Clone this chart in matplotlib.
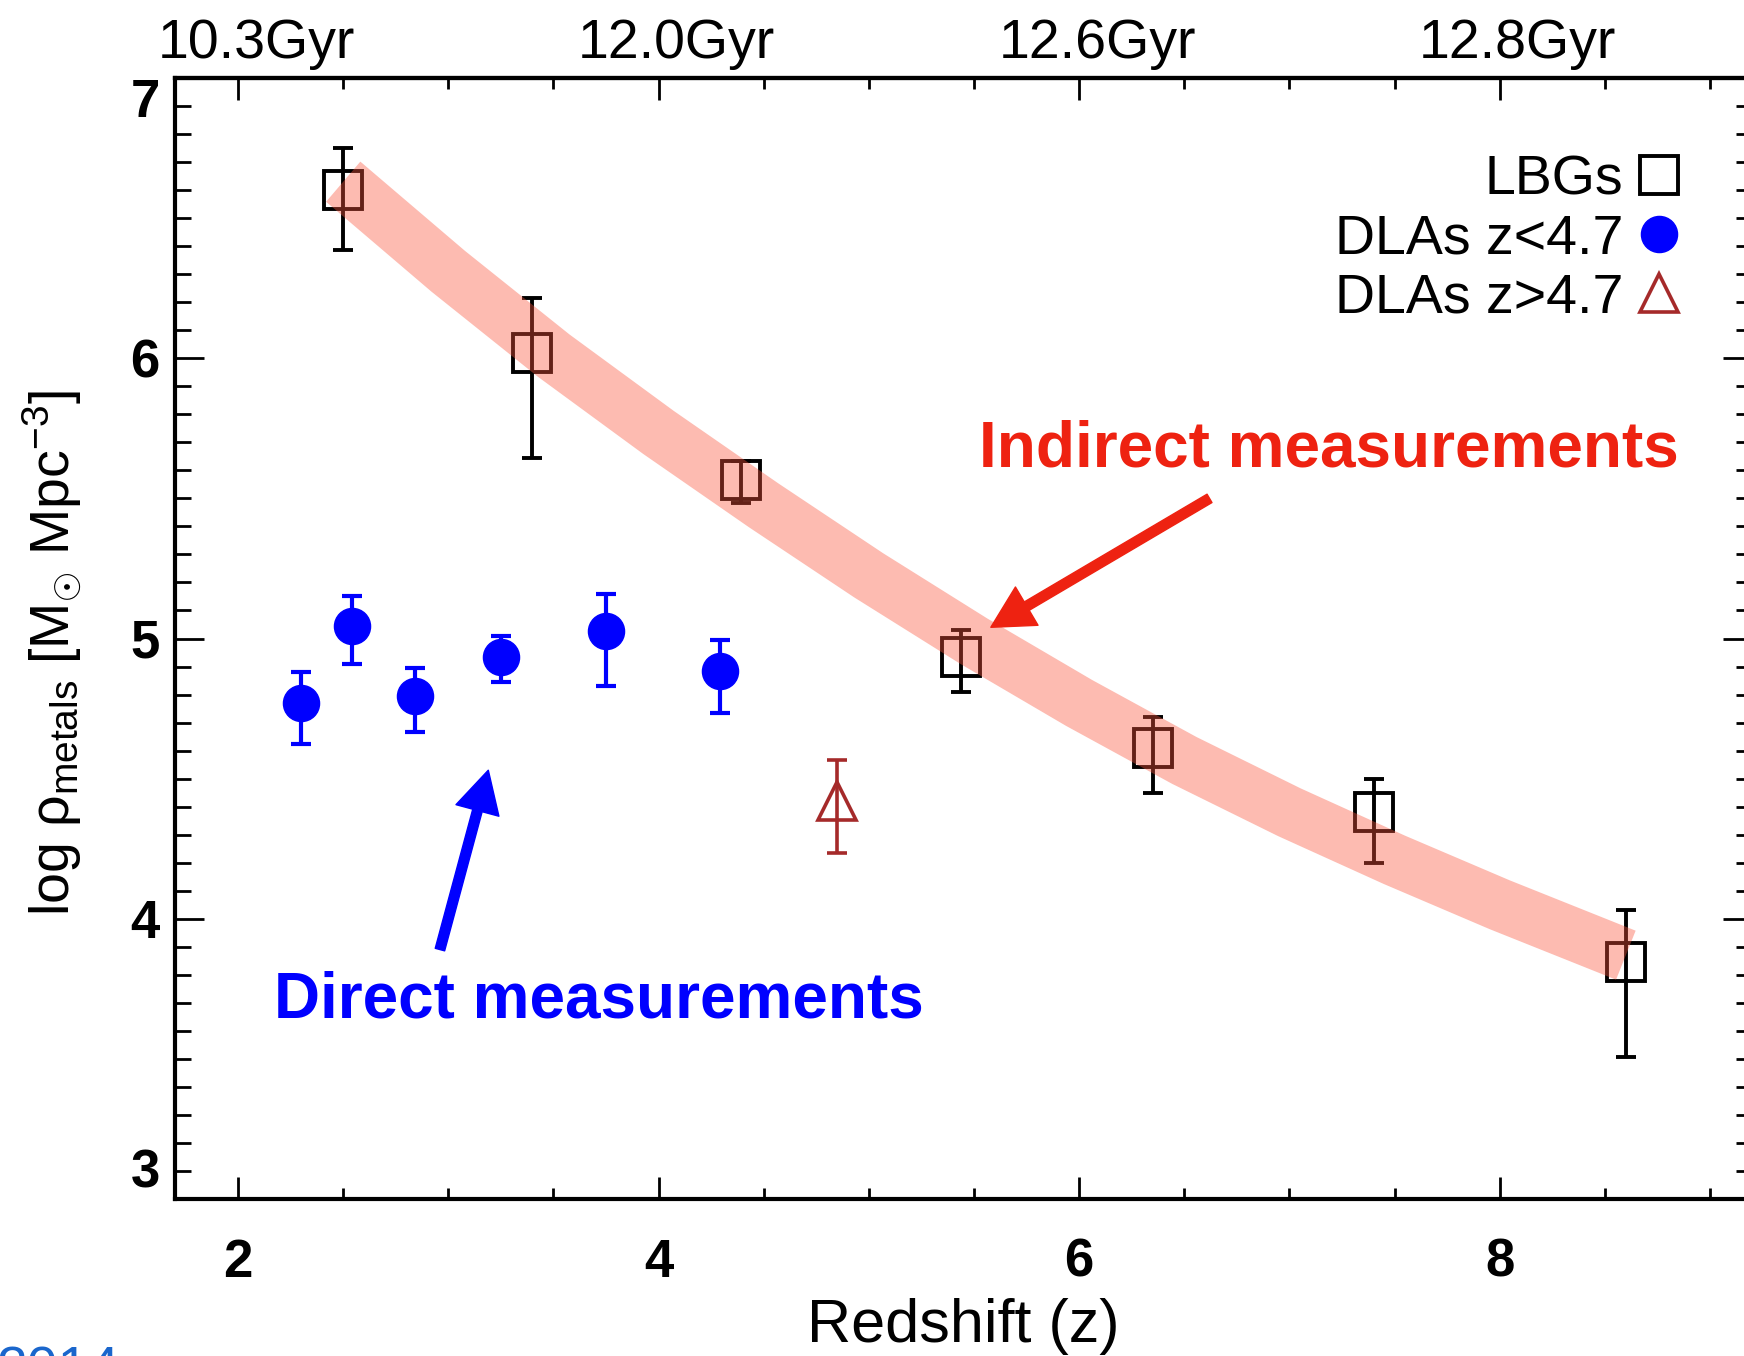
import numpy as np
import matplotlib.pyplot as plt
import matplotlib.transforms as mtransforms
from matplotlib.lines import Line2D
from matplotlib.ticker import MultipleLocator

plt.rcParams['font.family'] = ['Liberation Sans', 'DejaVu Sans']
plt.rcParams['mathtext.fontset'] = 'custom'
plt.rcParams['mathtext.rm'] = 'Liberation Sans'
plt.rcParams['mathtext.it'] = 'Liberation Sans'
plt.rcParams['mathtext.bf'] = 'Liberation Sans:bold'

# LBGs (open squares)
lbg_z = [2.50, 3.40, 4.39, 5.44, 6.35, 7.40, 8.60]
lbg_y = [6.60, 6.02, 5.565, 4.935, 4.61, 4.38, 3.845]
lbg_hi = [6.75, 6.215, 5.635, 5.03, 4.72, 4.50, 4.03]
lbg_lo = [6.385, 5.645, 5.485, 4.81, 4.45, 4.20, 3.505]

# DLAs z<4.7 (filled blue circles)
dla_z = [2.30, 2.54, 2.84, 3.25, 3.75, 4.29]
dla_y = [4.77, 5.045, 4.795, 4.935, 5.025, 4.885]
dla_hi = [4.88, 5.15, 4.895, 5.01, 5.16, 4.995]
dla_lo = [4.625, 4.91, 4.665, 4.845, 4.83, 4.735]

# DLAs z>4.7 (open triangle)
hz_z = [4.85]
hz_y = [4.42]
hz_hi = [4.565]
hz_lo = [4.235]

# indirect estimate band
band_z = [2.5, 3.0, 3.5, 4.0, 4.5, 5.0, 5.5, 6.0, 6.5, 7.0, 7.5, 8.0, 8.6]
band_y = [6.63, 6.31, 6.01, 5.735, 5.475, 5.225, 4.99, 4.77, 4.565, 4.38, 4.21, 4.05, 3.87]

x_ticks = [2, 4, 6, 8]
x_ticklabels = ['2', '4', '6', '8']
y_ticks = [3, 4, 5, 6, 7]
y_ticklabels = ['3', '4', '5', '6', '7']
top_labels = ['10.3Gyr', '12.0Gyr', '12.6Gyr', '12.8Gyr']
legend_labels = ['LBGs', 'DLAs z<4.7', 'DLAs z>4.7']

red = '#ee2211'
brown = '#a52a2a'

fig = plt.figure(figsize=(17.44, 13.56), dpi=100)
ax = fig.add_axes([175 / 1744, 1 - 1199 / 1356, 1577 / 1744, 1121 / 1356])

ax.plot(band_z, band_y, color='#fa553e', alpha=0.4, lw=38,
        solid_capstyle='butt', solid_joinstyle='round', zorder=5)

ax.errorbar(lbg_z, lbg_y,
            yerr=[np.subtract(lbg_y, lbg_lo), np.subtract(lbg_hi, lbg_y)],
            fmt='s', ms=27, mfc='none', mec='black', mew=2.8,
            ecolor='black', elinewidth=2.8, capsize=7, capthick=2.8, zorder=3)
ax.errorbar(dla_z, dla_y,
            yerr=[np.subtract(dla_y, dla_lo), np.subtract(dla_hi, dla_y)],
            fmt='o', ms=26, color='blue',
            ecolor='blue', elinewidth=3, capsize=7.5, capthick=3, zorder=3)
ax.errorbar(hz_z, hz_y,
            yerr=[np.subtract(hz_y, hz_lo), np.subtract(hz_hi, hz_y)],
            fmt='^', ms=28, mfc='none', mec=brown, mew=2.6,
            ecolor=brown, elinewidth=2.6, capsize=7, capthick=2.6, zorder=3)

# annotations
ax.text(5.525, 5.612, 'Indirect measurements', color=red, fontsize=46,
        fontweight='bold', ha='left', va='baseline', zorder=6)
ax.annotate('', xy=(5.58, 5.04), xytext=(6.62, 5.50),
            arrowprops=dict(color=red, width=7, headwidth=32, headlength=30, shrink=0),
            zorder=6)
ax.text(2.17, 3.646, 'Direct measurements', color='blue', fontsize=46,
        fontweight='bold', ha='left', va='baseline', zorder=6)
ax.annotate('', xy=(3.19, 4.53), xytext=(2.96, 3.89),
            arrowprops=dict(color='blue', width=7, headwidth=32, headlength=30, shrink=0),
            zorder=6)

# axes
ax.set_xlim(1.7, 9.2)
ax.set_ylim(3, 7)
ax.set_xticks(x_ticks, x_ticklabels, fontweight='bold')
ax.set_yticks(y_ticks, y_ticklabels, fontweight='bold')
ax.xaxis.set_minor_locator(MultipleLocator(0.5))
ax.yaxis.set_minor_locator(MultipleLocator(0.1))
ax.tick_params(axis='x', which='major', direction='in', length=16, width=2,
               top=False, labelsize=38, pad=28)
ax.tick_params(axis='x', which='minor', direction='in', length=8, width=2, top=False)
ax.tick_params(axis='y', which='major', direction='in', length=21, width=2,
               left=True, right=True, labelsize=38, pad=11)
ax.tick_params(axis='y', which='minor', direction='in', length=11.5, width=2,
               left=True, right=True)
for s in ax.spines.values():
    s.set_linewidth(3)

# end labels kept inside the range
ylabs = ax.yaxis.get_majorticklabels()
ylabs[0].set_va('bottom')
ylabs[-1].set_va('top')

sec = ax.secondary_xaxis('top')
sec.set_xticks(x_ticks, top_labels)
sec.xaxis.set_minor_locator(MultipleLocator(0.5))
sec.tick_params(axis='x', which='major', direction='in', length=16, width=2,
                labelsize=40, pad=6)
sec.tick_params(axis='x', which='minor', direction='in', length=8, width=2)
sec.spines['top'].set_linewidth(3)
shift = mtransforms.ScaledTranslation(0.18, 0, fig.dpi_scale_trans)
for lab in sec.get_xticklabels():
    lab.set_transform(lab.get_transform() + shift)

ax.set_xlabel('Redshift (z)', fontsize=44)
ax.xaxis.set_label_coords(0.5, -0.088)
ax.set_ylabel(r'log $\rho_{\rm metals}$ [M$_{\odot}$ Mpc$^{-3}$]', fontsize=40)
ax.yaxis.set_label_coords(-0.058, 0.487)

handles = [
    Line2D([], [], ls='none', marker='s', ms=27, mfc='none', mec='black', mew=2.8),
    Line2D([], [], ls='none', marker='o', ms=26, color='blue'),
    Line2D([], [], ls='none', marker='^', ms=28, mfc='none', mec=brown, mew=2.6),
]
ax.legend(handles, legend_labels, loc='upper right', bbox_to_anchor=(0.9588, 0.932),
          markerfirst=False, frameon=False, fontsize=40, handlelength=1.0,
          handletextpad=0.15, labelspacing=0.13, borderpad=0, borderaxespad=0)

# cut-off citation at the bottom edge
fig.text(-0.002, 0.0075, '2014', color='#1a66cc', fontsize=40, va='top')

fig.savefig('out.png', dpi=100)
